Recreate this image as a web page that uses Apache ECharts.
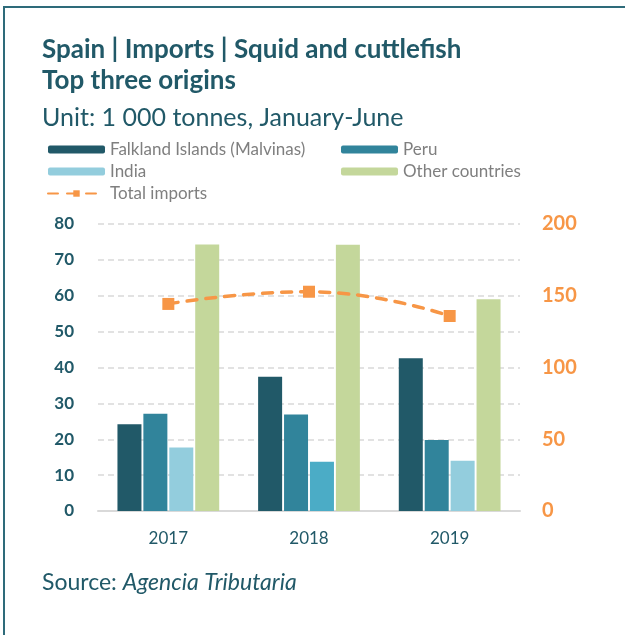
<!DOCTYPE html>
<html>
<head>
<meta charset="utf-8">
<script src="https://cdn.jsdelivr.net/npm/echarts@6/dist/echarts.min.js"></script>
<style>
  html, body { margin: 0; padding: 0; background: #fff; }
  #main { width: 625px; height: 635px; }
</style>
</head>
<body>
<div id="main"></div>
<script>
// data
var years = ['2017', '2018', '2019'];
var falkland = [24.2, 37.4, 42.6];
var peru = [27.1, 26.9, 19.8];
var india = [17.7, 13.7, 14.0];
var others = [74.3, 74.2, 59.0];
var totalImports = [144.3, 152.8, 135.9];

var teal = '#215968';
var font = 'Lato';

var chart = echarts.init(document.getElementById('main'));

var barBase = function (name, data, color) {
  return {
    name: name,
    type: 'bar',
    data: data,
    barWidth: 24,
    barGap: '8%',
    itemStyle: { color: color }
  };
};

// India 2018 is drawn in a deeper blue in the source
var indiaData = india.map(function (v, i) {
  return i === 1 ? { value: v, itemStyle: { color: '#4BACC6' } } : v;
});

var option = {
  animation: false,
  textStyle: { fontFamily: font },
  graphic: [{
    type: 'rect',
    shape: { x: 4, y: 7, width: 700, height: 700 },
    style: { fill: 'none', stroke: '#2E6B7A', lineWidth: 2 }
  }],
  title: [
    { text: 'Spain | Imports | Squid and cuttlefish', left: 37, top: 32,
      textStyle: { color: teal, fontSize: 26, fontWeight: 'bold', fontFamily: font } },
    { text: 'Top three origins', left: 37, top: 63,
      textStyle: { color: teal, fontSize: 26, fontWeight: 'bold', fontFamily: font } },
    { text: 'Unit: 1 000 tonnes, January-June', left: 37, top: 100,
      textStyle: { color: teal, fontSize: 25, fontWeight: 'normal', fontFamily: font } },
    { text: 'Source: {i|Agencia Tributaria}', left: 37, top: 566,
      textStyle: { color: teal, fontSize: 23, fontWeight: 'normal', fontFamily: font,
        rich: { i: { fontStyle: 'italic', fontSize: 23, color: teal, fontFamily: font } } } }
  ],
  legend: [
    { data: ['Falkland Islands (Malvinas)', 'India', 'Total imports'],
      orient: 'vertical', left: 42, top: 136, itemWidth: 57, itemHeight: 8, itemGap: 5,
      textStyle: { color: '#7F7F7F', fontSize: 17, fontFamily: font } },
    { data: ['Peru', 'Other countries'],
      orient: 'vertical', left: 336, top: 136, itemWidth: 57, itemHeight: 8, itemGap: 5,
      textStyle: { color: '#7F7F7F', fontSize: 17, fontFamily: font } }
  ],
  grid: { left: 98, right: 105, top: 224, bottom: 124 },
  xAxis: {
    type: 'category',
    data: years,
    axisLine: { lineStyle: { color: '#D9D9D9', width: 2 } },
    axisTick: { show: false },
    axisLabel: { color: teal, fontSize: 17, margin: 19, fontFamily: font }
  },
  yAxis: [
    { type: 'value', min: 0, max: 80, interval: 10,
      axisLine: { show: false }, axisTick: { show: false },
      axisLabel: { color: teal, fontSize: 17, fontWeight: 'bold', margin: 24, fontFamily: font },
      splitLine: { lineStyle: { color: '#D9D9D9', type: [6, 4], width: 1.5 } } },
    { type: 'value', min: 0, max: 200, interval: 50,
      axisLine: { show: false }, axisTick: { show: false },
      axisLabel: { color: '#F79646', fontSize: 20, fontWeight: 'bold', margin: 22, fontFamily: font },
      splitLine: { show: false } }
  ],
  series: [
    barBase('Falkland Islands (Malvinas)', falkland, '#215968'),
    barBase('Peru', peru, '#31849B'),
    barBase('India', indiaData, '#93CDDD'),
    barBase('Other countries', others, '#C4D79B'),
    {
      name: 'Total imports',
      type: 'line',
      yAxisIndex: 1,
      data: totalImports,
      smooth: true,
      symbol: 'rect',
      symbolSize: 12,
      itemStyle: { color: '#F79646' },
      lineStyle: { color: '#F79646', width: 3.5, type: [10, 9], cap: 'round' },
      z: 5
    }
  ]
};

chart.setOption(option);
window.onresize = function () {
  chart.resize();
};
</script>
</body>
</html>
